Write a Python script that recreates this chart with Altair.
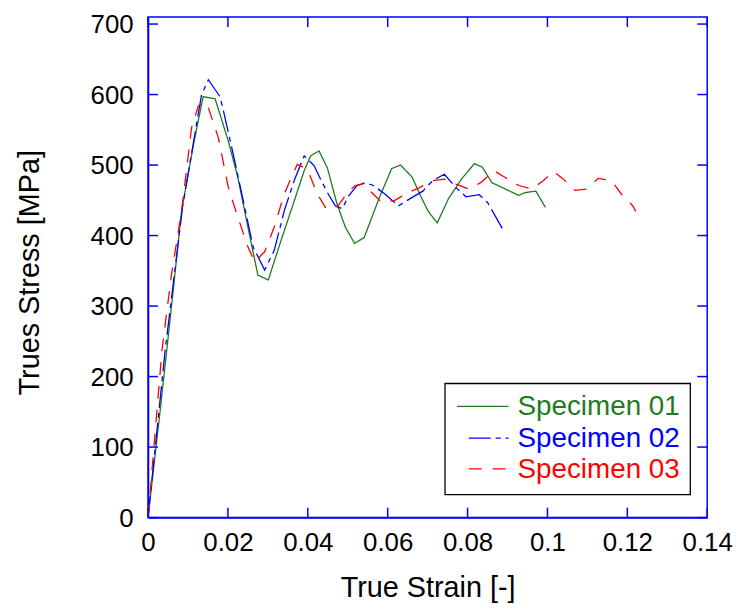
import altair as alt
import pandas as pd

# ---------------- data ----------------
specimens = ["Specimen 01", "Specimen 02", "Specimen 03"]
colors = ["#1e7b1e", "#0000ff", "#ff0000"]
dashes = [[1, 0], [22, 5, 5, 5], [13, 11]]

strain_01 = [0, 0.003, 0.0056, 0.0084, 0.0114, 0.0138, 0.0168, 0.0201, 0.0225, 0.025,
             0.0275, 0.0301, 0.0333, 0.0366, 0.0391, 0.0407, 0.0428, 0.0449, 0.0473,
             0.0494, 0.0517, 0.0541, 0.058, 0.061, 0.0632, 0.0661, 0.0686, 0.0702,
             0.0724, 0.0752, 0.0786, 0.0817, 0.0837, 0.0861, 0.0928, 0.0945, 0.0971,
             0.0995]
stress_01 = [0, 150, 285, 435, 530, 597, 594, 534, 482, 412,
             344, 337, 393, 449, 492, 513, 520, 496, 445,
             412, 389, 397, 455, 495, 500, 483, 452, 434,
             418, 452, 481, 502, 497, 475, 457, 461, 463,
             440]

strain_02 = [0, 0.0043, 0.0087, 0.0134, 0.0151, 0.018, 0.0188, 0.0217, 0.0242, 0.0263,
             0.0292, 0.0316, 0.0341, 0.0366, 0.0391, 0.0416, 0.0432, 0.0449, 0.0469,
             0.0486, 0.0502, 0.0523, 0.0544, 0.0564, 0.0593, 0.0627, 0.0655, 0.0688,
             0.0713, 0.0742, 0.0771, 0.0796, 0.0829, 0.085, 0.0887]
stress_02 = [0, 238, 443, 600, 621, 597, 579, 506, 440, 384,
             351, 379, 435, 478, 513, 499, 480, 461, 442,
             438, 456, 471, 475, 471, 459, 442, 452, 463,
             478, 487, 468, 455, 458, 447, 410]

strain_03 = [0, 0.0035, 0.0059, 0.0084, 0.0109, 0.0126, 0.0147, 0.0176, 0.0201, 0.0225,
             0.025, 0.0267, 0.0292, 0.0316, 0.0341, 0.0366, 0.0374, 0.0399, 0.0424,
             0.0444, 0.0473, 0.0502, 0.0519, 0.0539, 0.056, 0.0585, 0.0618, 0.0651,
             0.068, 0.0713, 0.0742, 0.0771, 0.0804, 0.0833, 0.0866, 0.0895, 0.0928,
             0.0961, 0.099, 0.1015, 0.104, 0.1069, 0.1098, 0.1127, 0.116, 0.1185,
             0.1214, 0.1221]
stress_03 = [0, 238, 346, 435, 553, 584, 588, 539, 468, 426,
             384, 363, 377, 412, 459, 492, 501, 494, 459,
             440, 440, 463, 471, 473, 461, 447, 450, 461,
             468, 478, 480, 473, 466, 475, 492, 482, 471,
             466, 478, 491, 480, 464, 466, 481, 478, 459,
             442, 434]

x_ticks = [0, 0.02, 0.04, 0.06, 0.08, 0.1, 0.12, 0.14]
y_ticks = [0, 100, 200, 300, 400, 500, 600, 700]

# ---------------- tables ----------------
rows = []
for name, xs, ys in zip(specimens, [strain_01, strain_02, strain_03],
                        [stress_01, stress_02, stress_03]):
    for i, (sx, sy) in enumerate(zip(xs, ys)):
        rows.append({"strain": sx, "stress": sy, "specimen": name, "idx": i})
df = pd.DataFrame(rows)
xt = pd.DataFrame({"v": x_ticks})
yt = pd.DataFrame({"v": y_ticks})
one = pd.DataFrame({"k": [0]})

W, H = 563, 504
TL = 10
BLUE = "#0000ff"
FONT = "Liberation Sans"

xscale = alt.Scale(domain=[0, 0.14], nice=False, zero=False)
yscale = alt.Scale(domain=[0, 710], nice=False, zero=False)

x_axis = alt.Axis(values=x_ticks, format=".2~f", title="True Strain [-]",
                  titleX=W / 2, titleY=79, titleBaseline="alphabetic",
                  labelPadding=12, labelFlush=False, labelOverlap=False)
y_axis = alt.Axis(values=y_ticks, title="Trues Stress [MPa]",
                  titleX=-110, titleY=257, titleAngle=-90,
                  titleBaseline="alphabetic", titleAlign="center",
                  labelPadding=15, labelOffset=1, labelFlush=False, labelOverlap=False)

lines = alt.Chart(df).mark_line(strokeWidth=1.3, clip=True).encode(
    x=alt.X("strain:Q", scale=xscale, axis=x_axis),
    y=alt.Y("stress:Q", scale=yscale, axis=y_axis),
    color=alt.Color("specimen:N", scale=alt.Scale(domain=specimens, range=colors),
                    legend=None),
    strokeDash=alt.StrokeDash("specimen:N", scale=alt.Scale(domain=specimens, range=dashes),
                              legend=None),
    order=alt.Order("idx:Q"),
)

tick_style = dict(color=BLUE, strokeWidth=1.5)
xb = alt.Chart(xt).mark_rule(**tick_style).encode(
    x=alt.X("v:Q", scale=xscale, axis=x_axis), y=alt.value(H), y2=alt.value(H - TL))
xtp = alt.Chart(xt).mark_rule(**tick_style).encode(
    x=alt.X("v:Q", scale=xscale, axis=x_axis), y=alt.value(0), y2=alt.value(TL))
yl = alt.Chart(yt).mark_rule(**tick_style).encode(
    y=alt.Y("v:Q", scale=yscale, axis=y_axis), x=alt.value(0), x2=alt.value(TL))
yr = alt.Chart(yt).mark_rule(**tick_style).encode(
    y=alt.Y("v:Q", scale=yscale, axis=y_axis), x=alt.value(W), x2=alt.value(W - TL))

# ---------------- legend box (drawn in pixel space of the plot) ----------------
LX0, LX1, LY0, LY1 = 299, 546, 369, 481
row_y = [392, 424, 455]
legend_layers = [
    alt.Chart(one).mark_rect(fill="white", stroke="black", strokeWidth=1.3).encode(
        x=alt.value(LX0), x2=alt.value(LX1), y=alt.value(LY0), y2=alt.value(LY1))
]
sym_start = [311, 323, 323]
for name, col, dash, ry, xs0 in zip(specimens, colors, dashes, row_y, sym_start):
    legend_layers.append(
        alt.Chart(one).mark_rule(color=col, strokeDash=dash, strokeWidth=1.3).encode(
            x=alt.value(xs0), x2=alt.value(363), y=alt.value(ry))
    )
    legend_layers.append(
        alt.Chart(one).mark_text(align="left", baseline="middle", font=FONT,
                                 fontSize=28, color=col).encode(
            x=alt.value(372), y=alt.value(ry + 1), text=alt.value(name))
    )

chart = alt.layer(lines, xb, xtp, yl, yr, *legend_layers).properties(
    width=W, height=H,
    autosize=alt.AutoSizeParams(type="none"),
    padding={"left": 141, "top": 7, "right": 30, "bottom": 90},
    background="white",
).configure_view(
    stroke=BLUE, strokeWidth=1.5
).configure_axis(
    domainColor=BLUE, domainWidth=1.5, ticks=False, grid=False,
    labelColor="black", labelFont=FONT, labelFontSize=26,
    titleColor="black", titleFont=FONT, titleFontSize=29, titleFontWeight="normal",
)

chart.save("out.html", embed_options={"renderer": "svg", "actions": False})
